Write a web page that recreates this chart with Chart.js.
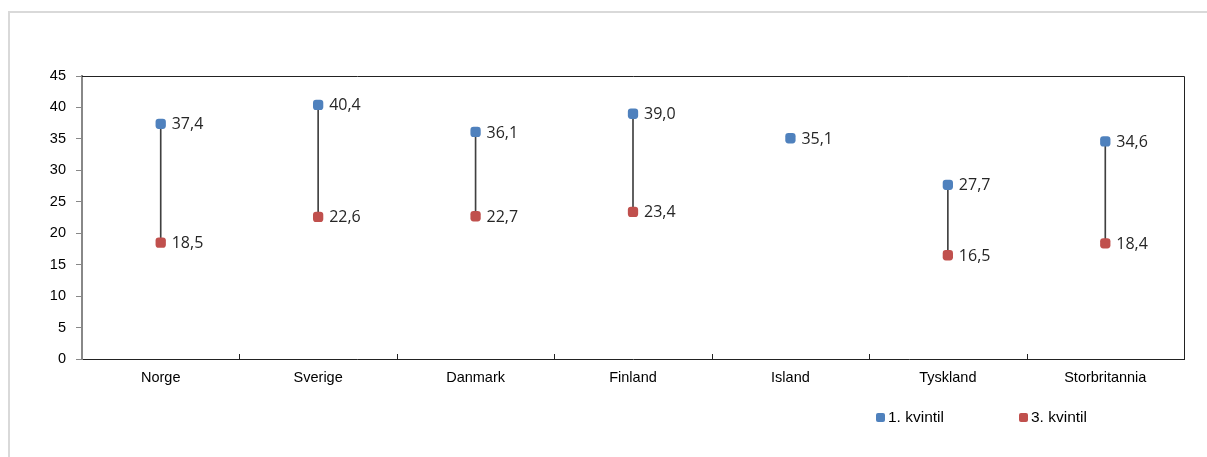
<!DOCTYPE html>
<html>
<head>
<meta charset="utf-8">
<script src="https://cdn.jsdelivr.net/npm/chart.js@4.4.1/dist/chart.umd.min.js"></script>
<style>
  html, body { margin: 0; padding: 0; background: #fff; }
  #wrap { position: relative; width: 1207px; height: 457px; overflow: hidden; }
  #frame { position: absolute; left: 8px; top: 11px; width: 1300px; height: 500px;
           border-left: 2px solid #d9d9d9; border-top: 2px solid #d9d9d9; }
  #chart { position: absolute; left: 0; top: 0; }
  #legend { position: absolute; top: 408px; left: 876px; font: 15.5px "Liberation Sans", Arial, sans-serif; color: #000; }
  #legend span.item { position: absolute; white-space: nowrap; display: flex; align-items: center; }
  #legend i { display: inline-block; width: 9px; height: 9px; border-radius: 2px; margin-right: 3px; }
</style>
</head>
<body>
<div id="wrap">
  <div id="frame"></div>
  <canvas id="chart" width="1207" height="457"></canvas>
  <div id="legend"></div>
</div>
<script>
const countries = ["Norge", "Sverige", "Danmark", "Finland", "Island", "Tyskland", "Storbritannia"];
const q1 = [37.4, 40.4, 36.1, 39.0, 35.1, 27.7, 34.6];
const q3 = [18.5, 22.6, 22.7, 23.4, null, 16.5, 18.4];
const yTicks = [0, 5, 10, 15, 20, 25, 30, 35, 40, 45];

const blue = "#4f81bd";
const red = "#c0504d";

// span between 1. and 3. kvintil as a thin floating bar
const spans = q1.map((v, i) => (q3[i] == null ? null : [q3[i], v]));

const fmt = v => v.toFixed(1).replace(".", ",");

const valueLabels = {
  id: "valueLabels",
  afterDatasetsDraw(chart) {
    const ctx = chart.ctx;
    ctx.save();
    ctx.font = '16px "Open Sans", sans-serif';
    ctx.fillStyle = "#262626";
    ctx.textAlign = "left";
    ctx.textBaseline = "middle";
    chart.data.datasets.forEach((ds, di) => {
      if (ds.type !== "line") return;
      chart.getDatasetMeta(di).data.forEach((pt, i) => {
        if (ds.data[i] == null) return;
        ctx.fillText(fmt(ds.data[i]), pt.x + 11, pt.y + 1);
      });
    });
    ctx.restore();
  }
};

// box around the plot plus small inward ticks between categories
const plotBorder = {
  id: "plotBorder",
  beforeDatasetsDraw(chart) {
    const a = chart.chartArea;
    const x = chart.scales.x;
    const ctx = chart.ctx;
    ctx.save();
    ctx.strokeStyle = "#222";
    ctx.lineWidth = 1;
    ctx.beginPath();
    ctx.moveTo(a.left, a.top + 0.5);
    ctx.lineTo(a.right + 0.5, a.top + 0.5);
    ctx.lineTo(a.right + 0.5, a.bottom);
    for (let i = 1; i < countries.length; i++) {
      const px = Math.round((x.getPixelForValue(i - 1) + x.getPixelForValue(i)) / 2) + 0.5;
      ctx.moveTo(px, a.bottom);
      ctx.lineTo(px, a.bottom - 5);
    }
    ctx.stroke();
    ctx.restore();
  }
};

new Chart(document.getElementById("chart"), {
  type: "bar",
  data: {
    labels: countries,
    datasets: [
      {
        type: "line",
        label: "1. kvintil",
        data: q1,
        showLine: false,
        pointStyle: "rectRounded",
        pointRadius: 6,
        pointBackgroundColor: blue,
        pointBorderColor: blue,
        pointBorderWidth: 0,
        order: 0
      },
      {
        type: "line",
        label: "3. kvintil",
        data: q3,
        showLine: false,
        pointStyle: "rectRounded",
        pointRadius: 6,
        pointBackgroundColor: red,
        pointBorderColor: red,
        pointBorderWidth: 0,
        order: 0
      },
      {
        type: "bar",
        label: "span",
        data: spans,
        backgroundColor: "#404040",
        barThickness: 1,
        grouped: false,
        order: 1
      }
    ]
  },
  options: {
    responsive: false,
    animation: false,
    layout: { padding: { left: 0, top: 76, right: 23, bottom: 58 } },
    plugins: {
      legend: { display: false },
      tooltip: { enabled: false }
    },
    scales: {
      x: {
        offset: true,
        border: { color: "#222", width: 1 },
        grid: { display: false, drawTicks: false },
        ticks: { color: "#000", padding: 10, font: { family: "Liberation Sans", size: 14.5 } },
        afterFit(s) { s.height = 40; }
      },
      y: {
        min: 0,
        max: 45,
        afterBuildTicks(s) { s.ticks = yTicks.map(v => ({ value: v })); },
        border: { color: "#888", width: 2 },
        grid: { drawOnChartArea: false, drawTicks: true, tickLength: 6, color: "#888" },
        ticks: { color: "#000", padding: 10, font: { family: "Liberation Sans", size: 14.5 } },
        afterFit(s) { s.width = 82; }
      }
    }
  },
  plugins: [valueLabels, plotBorder]
});

// legend under the plot, right side
const legend = document.getElementById("legend");
[["1. kvintil", blue, 0], ["3. kvintil", red, 143]].forEach(([name, col, dx]) => {
  const item = document.createElement("span");
  item.className = "item";
  item.style.left = dx + "px";
  item.innerHTML = '<i style="background:' + col + '"></i>' + name;
  legend.appendChild(item);
});
</script>
</body>
</html>
